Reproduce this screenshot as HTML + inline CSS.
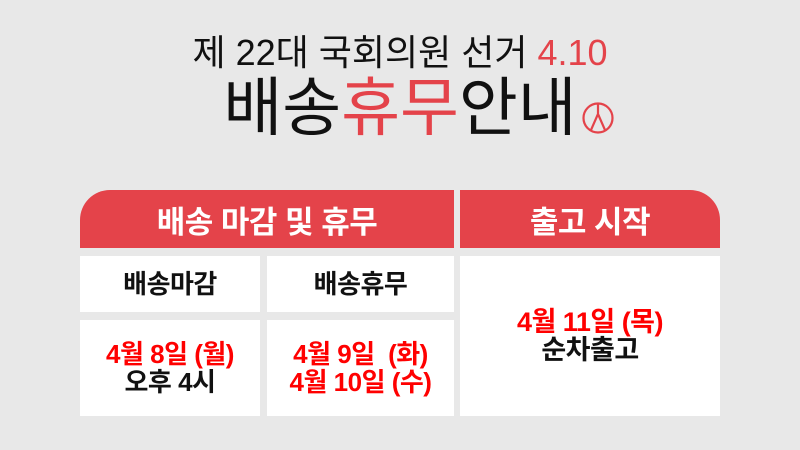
<!DOCTYPE html>
<html><head><meta charset="utf-8"><style>
body{margin:0;width:800px;height:450px;background:#e8e8e8;font-family:"Liberation Sans","Noto Sans CJK KR",sans-serif;position:relative;overflow:hidden}
.a{position:absolute}
.t1{left:0;width:800px;top:31px;text-align:center;font-size:36px;line-height:44px;color:#111}
.t2{left:0;width:800px;top:71px;text-align:center;font-size:64px;line-height:74px;color:#111}
.r{color:#e4434a}
.hd{background:#e4434a;color:#fff;font-weight:bold;font-size:31px;display:flex;align-items:center;justify-content:center;letter-spacing:-0.5px}
.c{background:#fff;display:flex;align-items:center;justify-content:center;flex-direction:column;font-weight:bold;font-size:26px;color:#111;line-height:28px;letter-spacing:-0.5px}
.red{color:#f00}
</style></head><body>
<div class="a t1">제 22대 국회의원 선거 <span class="r">4.10</span></div>
<div class="a t2">배송<span class="r">휴무</span>안내</div>
<svg class="a" style="left:581px;top:101px" width="34" height="34"><circle cx="17" cy="17" r="14.5" fill="none" stroke="#e4434a" stroke-width="2.2"/><path d="M17 3 L17 13 L10 29 M17 13 L24 29" fill="none" stroke="#e4434a" stroke-width="2.2"/></svg>
<div class="a hd" style="left:80px;top:190px;width:374px;height:58px;border-top-left-radius:30px">배송 마감 및 휴무</div>
<div class="a hd" style="left:460px;top:190px;width:260px;height:58px;border-top-right-radius:30px">출고 시작</div>
<div class="a c" style="left:80px;top:256px;width:180px;height:56px;font-size:26px">배송마감</div>
<div class="a c" style="left:267px;top:256px;width:187px;height:56px;font-size:26px">배송휴무</div>
<div class="a c" style="left:80px;top:320px;width:180px;height:96px"><span class="red">4월 8일 (월)</span><span>오후 4시</span></div>
<div class="a c" style="left:267px;top:320px;width:187px;height:96px"><span class="red">4월 9일 &nbsp;(화)</span><span class="red">4월 10일 (수)</span></div>
<div class="a c" style="left:460px;top:256px;width:260px;height:160px;font-size:27px;line-height:28px"><span class="red">4월 11일 (목)</span><span>순차출고</span></div>
</body></html>
